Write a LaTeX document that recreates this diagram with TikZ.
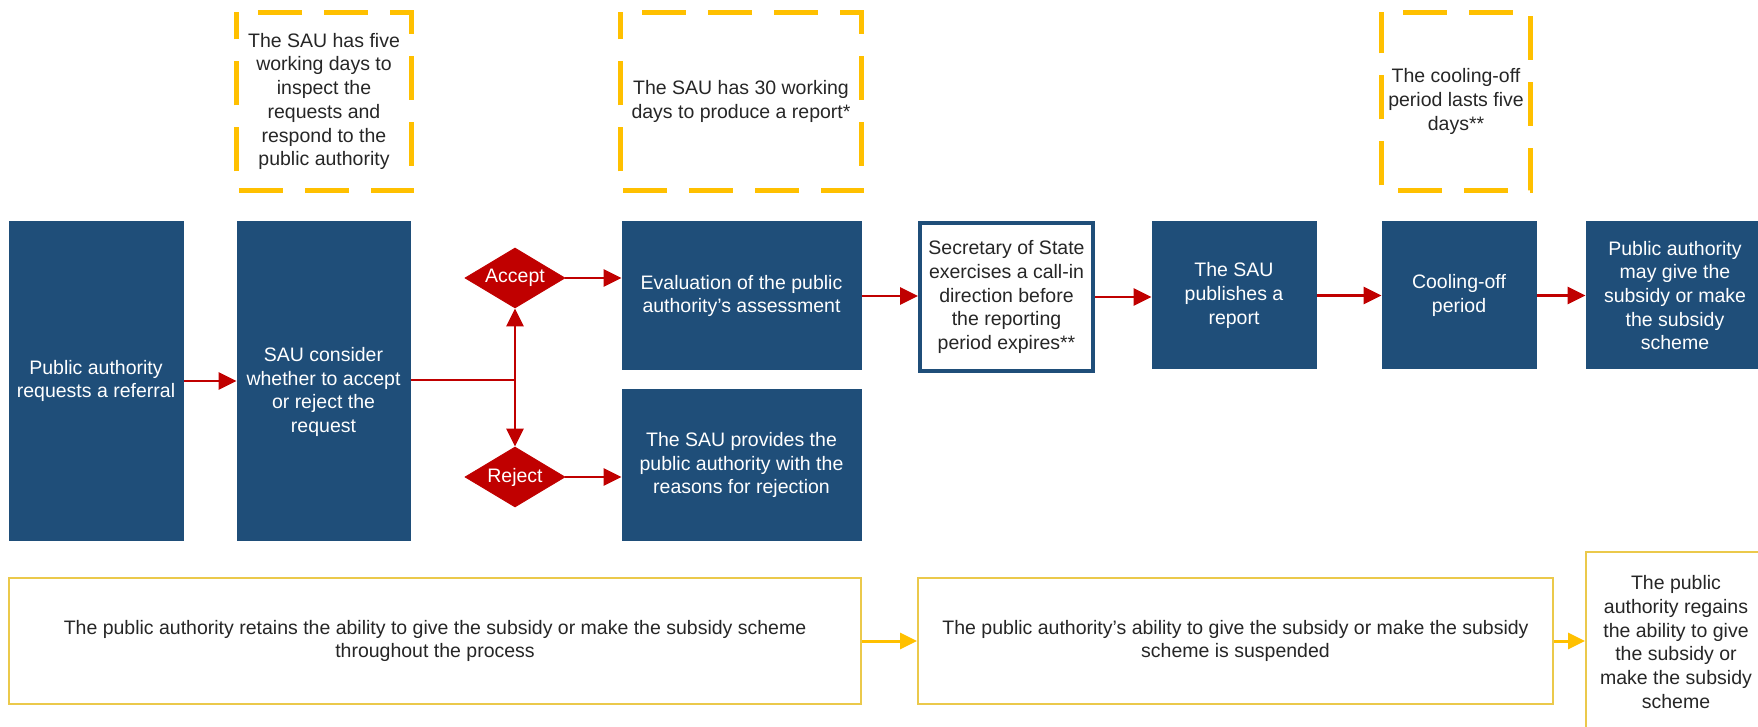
\documentclass[tikz,border=0pt]{standalone}
\usepackage{fontspec}
\setmainfont{Liberation Sans}
\usetikzlibrary{arrows.meta,shapes.geometric}
\definecolor{navy}{HTML}{1F4E79}
\definecolor{darkred}{HTML}{C00000}
\definecolor{gold}{HTML}{FFC000}
\definecolor{txt}{HTML}{262626}
\definecolor{thingold}{HTML}{EBC94B}
\begin{document}
\begin{tikzpicture}[x=0.5pt,y=-0.5pt,
  every node/.style={font=\fontsize{9.75}{11.85}\selectfont, align=center, inner sep=0pt},
  bluebox/.style={rectangle, fill=navy, draw=navy, line width=0.5pt, text=white},
  secbox/.style={rectangle, fill=white, draw=navy, line width=2pt, text=txt},
  decision/.style={diamond, aspect=1.667, fill=darkred, draw=darkred, text=white, minimum width=50pt, minimum height=30pt},
  note/.style={rectangle, text=txt},
  dashbox/.style={draw=gold, line width=2.5pt, dash pattern=on 22pt off 11pt, dash phase=22pt, line join=miter},
  periodbox/.style={rectangle, draw=thingold, line width=1pt, fill=white, text=txt},
  redarr/.style={draw=darkred, line width=1.35pt, -{Triangle[length=9pt,width=8.5pt]}},
  redline/.style={draw=darkred, line width=1.35pt},
  goldarr/.style={draw=gold, line width=1.5pt, -{Triangle[length=8.5pt,width=8pt]}}
]
\useasboundingbox (0,0) rectangle (1758,727);
\clip (0,0) rectangle (1758,727);

% time notes (dashed)
\node[note, minimum width=87.5pt, minimum height=89pt] (n1) at (324,101.5) {The SAU has five\\working days to\\inspect the\\requests and\\respond to the\\public authority};
\node[note, minimum width=120.5pt, minimum height=89pt] (n2) at (741,101.5) {The SAU has 30 working\\days to produce a report*};
\node[note, minimum width=74.5pt, minimum height=89pt] (n3) at (1456,101.5) {The cooling-off\\period lasts five\\days**};
\draw[dashbox] (n1.north west) -- (n1.north east) -- (n1.south east) -- (n1.south west) -- cycle;
\draw[dashbox] (n2.north west) -- (n2.north east) -- (n2.south east) -- (n2.south west) -- cycle;
\draw[dashbox] (n3.north west) -- (n3.north east) -- (n3.south east) -- (n3.south west) -- cycle;

% process boxes
\node[bluebox, minimum width=87pt, minimum height=159pt] (b1) at (96,381) {Public authority\\requests a referral};
\node[bluebox, minimum width=86.5pt, minimum height=159pt] (b2) at (323.5,381) {};
\node[text=white] (b2t) at (323.5,392) {SAU consider\\whether to accept\\or reject the\\request};
\node[decision] (acc) at (515,278) {Accept};
\node[decision] (rej) at (515,477) {Reject};
\node[bluebox, minimum width=119.5pt, minimum height=74pt] (eval) at (741.5,296) {Evaluation of the public\\authority's assessment};
\node[bluebox, minimum width=119.5pt, minimum height=75pt] (prov) at (741.5,465) {The SAU provides the\\public authority with the\\reasons for rejection};
\node[secbox, minimum width=86.5pt, minimum height=74pt] (sec) at (1006.5,297) {Secretary of State\\exercises a call-in\\direction before\\the reporting\\period expires**};
\node[bluebox, minimum width=82pt, minimum height=73.5pt] (pub) at (1234,295.5) {The SAU\\publishes a\\report};
\node[bluebox, minimum width=77pt, minimum height=73.5pt] (cool) at (1459,295.5) {Cooling-off\\period};
\node[bluebox, minimum width=89pt, minimum height=73.5pt] (may) at (1675,295.5) {Public authority\\may give the\\subsidy or make\\the subsidy\\scheme};

% period boxes
\node[periodbox, minimum width=426pt, minimum height=63pt] (p1) at (435,641) {The public authority retains the ability to give the subsidy or make the subsidy scheme\\throughout the process};
\node[periodbox, minimum width=317.5pt, minimum height=63pt] (p2) at (1235.5,641) {The public authority's ability to give the subsidy or make the subsidy\\scheme is suspended};
\node[periodbox, minimum width=90pt, minimum height=90pt] (p3) at (1676,642) {The public\\authority regains\\the ability to give\\the subsidy or\\make the subsidy\\scheme};

% connectors
\coordinate (j) at (515,380);
\draw[redarr] (b1.east) -- (b1.east -| b2.west);
\draw[redline] (b2.east |- j) -- (j);
\draw[redarr] (j) -- (acc.south);
\draw[redarr] (j) -- (rej.north);
\draw[redarr] (acc.east) -- (acc.east -| eval.west);
\draw[redarr] (rej.east) -- (rej.east -| prov.west);
\draw[redarr] (eval.east) -- (eval.east -| sec.west);
\draw[redarr] (sec.east) -- (sec.east -| pub.west);
\draw[redarr] (pub.east) -- (pub.east -| cool.west);
\draw[redarr] (cool.east) -- (cool.east -| may.west);
\draw[goldarr] (p1.east) -- (p1.east -| p2.west);
\draw[goldarr] (p2.east) -- (p2.east -| p3.west);
\end{tikzpicture}
\end{document}
